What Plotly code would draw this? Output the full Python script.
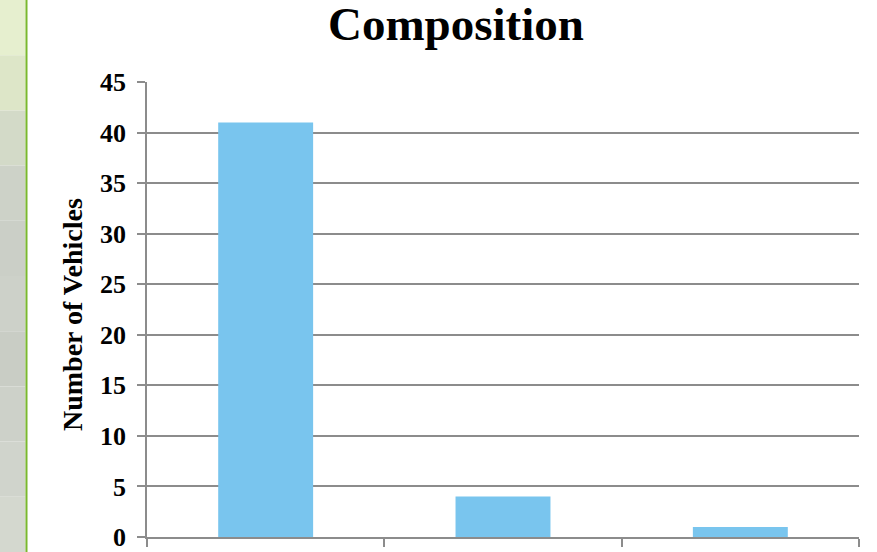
import plotly.graph_objects as go

# Vehicle counts per group
categories = ["Group 1", "Group 2", "Group 3"]
vehicles = [41, 4, 1]

title_text = "Composition"
y_title = "Number of Vehicles"
y_ticks = [0, 5, 10, 15, 20, 25, 30, 35, 40, 45]

SERIF = "Liberation Serif, Times New Roman, serif"
GRID = "#8c8c8c"
BAR = "#79C5EE"

W, H = 877, 552
L, R, T, B = 147, 18, 82, 15
plot_w = W - L - R
plot_h = H - T - B


def px_x(p):
    return (p - L) / plot_w


def px_y(p):
    return (H - B - p) / plot_h


fig = go.Figure(
    go.Bar(
        x=categories,
        y=vehicles,
        marker=dict(color=BAR, line=dict(width=0)),
        width=0.4,
        hoverinfo="x+y",
    )
)

# textured side panel with a green rule along its edge
strip_colors = ["#e6efcf", "#dde6c8", "#d3dac8", "#cdd2c8", "#cbcfc7",
                "#cdd1c9", "#c9cdc5", "#cdd1c9", "#d0d4cc", "#d4d8cf"]
shapes = []
n = len(strip_colors)
for i, c in enumerate(strip_colors):
    y0 = H * i / n
    y1 = H * (i + 1) / n
    shapes.append(dict(type="rect", xref="paper", yref="paper",
                       x0=px_x(0), x1=px_x(25.5), y0=px_y(y1), y1=px_y(y0),
                       fillcolor=c, line=dict(width=0), layer="below"))
shapes.append(dict(type="line", xref="paper", yref="paper",
                   x0=px_x(26.5), x1=px_x(26.5), y0=px_y(H), y1=px_y(0),
                   line=dict(color="#7ab82e", width=2)))

fig.update_layout(
    width=W,
    height=H,
    margin=dict(l=L, r=R, t=T, b=B, autoexpand=False),
    paper_bgcolor="white",
    plot_bgcolor="white",
    showlegend=False,
    shapes=shapes,
    title=dict(
        text=title_text,
        x=456 / W,
        xref="container",
        xanchor="center",
        y=1 - 24 / H,
        yref="container",
        yanchor="middle",
        font=dict(family=SERIF, size=47, color="black", weight="bold"),
    ),
    annotations=[
        dict(
            text=y_title,
            textangle=-90,
            xref="paper",
            yref="paper",
            x=px_x(72),
            y=px_y(315),
            xanchor="center",
            yanchor="middle",
            showarrow=False,
            font=dict(family=SERIF, size=28, color="black", weight="bold"),
        )
    ],
    bargap=0.6,
)

fig.update_xaxes(
    type="category",
    automargin=False,
    showticklabels=False,
    showgrid=False,
    showline=True,
    linecolor=GRID,
    linewidth=1.5,
    ticks="outside",
    tickson="boundaries",
    ticklen=8,
    tickcolor=GRID,
    tickwidth=1.5,
)

fig.update_yaxes(
    automargin=False,
    range=[0, 45],
    tickvals=y_ticks,
    showgrid=True,
    gridcolor=GRID,
    gridwidth=1.5,
    zeroline=False,
    showline=True,
    linecolor=GRID,
    linewidth=1.5,
    ticks="outside",
    ticklen=8,
    tickcolor=GRID,
    tickwidth=1.5,
    ticklabelstandoff=6,
    ticklabeloverflow="allow",
    tickfont=dict(family=SERIF, size=26, color="black", weight="bold"),
)

fig.write_html("out.html")
